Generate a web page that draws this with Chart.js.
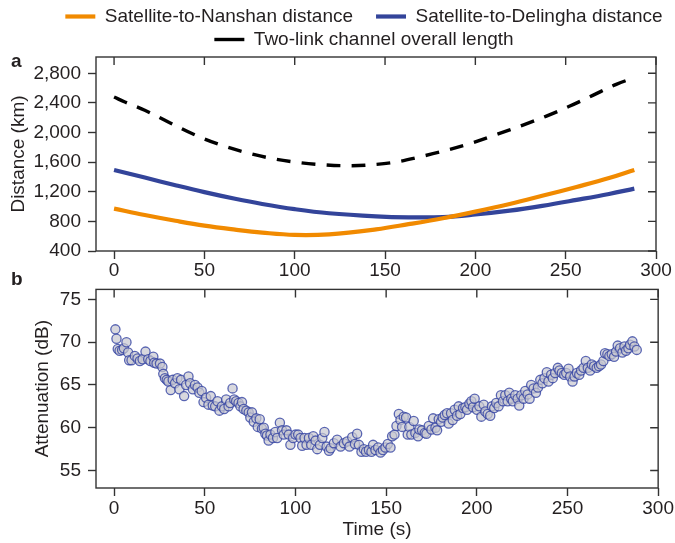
<!DOCTYPE html>
<html>
<head>
<meta charset="utf-8">
<script src="https://cdn.jsdelivr.net/npm/chart.js@4.4.0/dist/chart.umd.min.js"></script>
<style>
html, body { margin: 0; padding: 0; background: #fff; overflow: hidden; }
#wrap { position: relative; width: 675px; height: 543px; overflow: hidden; }
#chartA { position: absolute; left: 0; top: 0; width: 675px; height: 281px; }
#chartB { position: absolute; left: 0; top: 271px; width: 675px; height: 272px; }
</style>
</head>
<body>
<div id="wrap">
  <canvas id="chartA" width="675" height="281"></canvas>
  <canvas id="chartB" width="675" height="272"></canvas>
</div>
<script>
// ==========================================
// DATA - panel a (distance, km)
// ==========================================
const distTime   = [0, 17, 34, 50, 67, 82, 100, 119, 145, 163, 182, 200, 219, 237, 256, 274, 288];
const nanshanKm  = [972, 886, 808, 742, 688, 648, 617, 625, 692, 762, 843, 932, 1035, 1145, 1265, 1385, 1495];
const delinghaKm = [1495, 1392, 1288, 1195, 1105, 1035, 965, 910, 868, 855, 858, 893, 945, 1010, 1090, 1170, 1242];
const totalTime  = [0, 6, 17, 30, 44, 58, 72, 86, 100, 115, 130, 143, 156, 169, 184, 198, 212, 226, 239, 252, 265, 278, 288];
const totalKm    = [2480, 2412, 2300, 2142, 1976, 1841, 1737, 1656, 1602, 1566, 1552, 1566, 1602, 1670, 1760, 1859, 1976, 2097, 2219, 2354, 2502, 2651, 2740];

// DATA - panel b (attenuation, dB)
const attTime = [
  0.7, 1.3, 2, 3, 4.4, 5.4, 6.8, 7.7, 8.3, 9.6, 11.4, 12.9, 14.2, 15.7, 17.3, 18.8, 20, 21.6, 22.1, 23.4,
  25.3, 26.6, 27.1, 28, 29, 29.9, 31.2, 32.3, 33.6, 34.9, 36, 36.9, 38.6, 39.7, 41, 41.9, 43.4, 44.6, 46, 47,
  48.3, 49.3, 50.7, 52, 53.3, 54.4, 55.7, 57, 58.1, 59.4, 60.7, 61.8, 63.1, 64, 65.3, 66.2, 67.3, 68.6, 69.6, 70.5,
  71.4, 72.9, 74.2, 75.1, 76, 77, 78.4, 79.2, 80.3, 81.5, 82.5, 83.4, 84.3, 85.2, 86.2, 87.6, 88.9, 89.9, 91.4, 92.6,
  93.5, 95, 96.3, 97.2, 98.7, 100, 101.5, 102.8, 103.7, 105, 106.1, 107.4, 108.7, 109.8, 111.1, 112, 113.5, 114.8, 116, 117.2,
  118.5, 119.4, 121.2, 123, 124.9, 126.7, 128.5, 129.8, 131.3, 132.8, 134, 135, 136.4, 137.7, 138.9, 140.5, 141.9, 142.8, 144.1, 145.6,
  146.9, 148.2, 149.6, 150.9, 152.4, 153.3, 154.6, 155.7, 157, 157.9, 158.8, 159.7, 161, 161.9, 162.8, 163.9, 165.2, 166.1, 167.6, 168.3,
  169.8, 171.3, 172.2, 173.5, 175, 175.9, 177.2, 178.1, 179, 180.3, 181.2, 182.3, 183.6, 184.5, 185.8, 186.7, 187.8, 189.1, 190, 190.9,
  192.4, 193.7, 194.6, 195.9, 197, 197.9, 198.8, 200.1, 201.4, 202.5, 203.8, 204.7, 206, 207.4, 208.3, 209.6, 210.7, 212, 213.3, 214.4,
  215.7, 217, 217.9, 219, 219.9, 221.2, 222.5, 223.4, 224.5, 225.8, 226.7, 228, 229.1, 230, 231.3, 232.6, 233.7, 235, 236.2, 237.3,
  238.6, 239.5, 241, 241.9, 243.2, 244.7, 245.6, 246.9, 248.2, 249.3, 250.6, 251.5, 252.8, 253.9, 255.2, 256.5, 257.5, 258.8, 260.1, 261.2,
  262.5, 263.4, 264.7, 266.1, 267.4, 268.5, 269.8, 270.7, 272, 273.1, 274.4, 275.7, 276.8, 277.7, 279, 280.3, 281.4, 282.3, 283.6, 284.5,
  285.8, 286.9, 288.2
];
const attDb = [
  71.5, 70.4, 69.2, 69.0, 69.1, 69.3, 70.0, 68.8, 67.9, 67.9, 68.4, 68.1, 67.8, 68.0, 68.9, 68.0, 67.8, 68.3, 67.6, 67.5,
  67.5, 67.1, 66.3, 65.8, 65.6, 65.4, 64.4, 65.6, 65.2, 65.8, 64.5, 65.6, 63.7, 65.0, 66.0, 65.2, 64.5, 65.0, 64.7, 64.1,
  64.3, 63.0, 63.5, 62.7, 63.7, 62.6, 62.5, 63.1, 62.0, 62.5, 62.2, 63.3, 62.5, 62.9, 64.6, 63.3, 63.1, 62.9, 62.5, 63.0,
  62.2, 62.0, 61.8, 61.2, 61.8, 60.7, 61.1, 60.1, 61.0, 59.9, 60.0, 59.3, 59.1, 58.5, 59.2, 58.8, 59.5, 58.8, 60.6, 59.7,
  59.2, 59.7, 59.2, 58.0, 58.8, 59.2, 59.2, 58.8, 57.9, 58.8, 58.0, 58.8, 58.0, 59.0, 58.5, 57.5, 58.0, 58.8, 59.5, 57.8,
  57.3, 57.6, 58.2, 58.6, 57.8, 58.2, 58.4, 57.8, 58.9, 58.1, 59.3, 58.0, 57.2, 57.5, 57.2, 57.4, 57.2, 58.0, 57.4, 57.7,
  57.1, 57.4, 57.7, 58.1, 57.7, 59.0, 59.2, 60.2, 61.6, 60.9, 60.1, 61.3, 61.2, 59.2, 60.1, 59.2, 60.8, 59.4, 59.0, 59.8,
  59.7, 59.4, 59.3, 60.2, 59.8, 61.1, 60.0, 59.7, 61.0, 60.7, 61.2, 61.5, 61.7, 60.5, 61.7, 60.9, 62.1, 61.4, 62.5, 61.6,
  62.3, 62.4, 62.1, 62.8, 63.1, 62.4, 63.4, 62.1, 62.5, 61.3, 62.7, 61.9, 61.6, 61.4, 62.5, 62.3, 62.9, 62.5, 63.8, 63.1,
  63.8, 63.1, 64.1, 63.4, 63.1, 63.8, 63.4, 62.6, 63.8, 63.4, 64.3, 63.9, 63.4, 65.0, 64.6, 64.1, 64.7, 65.6, 65.2, 65.8,
  66.5, 65.4, 66.2, 65.8, 66.4, 67.0, 66.7, 66.4, 66.2, 66.4, 66.9, 66.0, 65.4, 66.0, 66.4, 66.2, 66.7, 67.0, 67.8, 67.0,
  66.7, 67.4, 67.2, 67.0, 67.2, 67.4, 67.8, 68.7, 68.6, 68.4, 68.6, 68.3, 68.9, 69.6, 69.3, 68.8, 69.5, 69.0, 69.3, 69.7,
  70.1, 69.5, 69.1
];

// tick labels
const timeTicks = [0, 50, 100, 150, 200, 250, 300];
const distTicks = [400, 800, 1200, 1600, 2000, 2400, 2800];
const attTicks  = [55, 60, 65, 70, 75];

// ==========================================
// STYLE
// ==========================================
const FONT = '"Liberation Sans", Arial, Helvetica, sans-serif';
const textColor = '#231f20';
const axisColor = '#333333';
const tickLen = 8;
const orange = '#f18a00';
const blue = '#33449a';

// frame + mirrored inward ticks + panel letter
const framePlugin = {
  id: 'frame',
  afterDraw(chart, args, opts) {
    const { ctx, chartArea: a, scales } = chart;
    ctx.save();
    ctx.strokeStyle = axisColor;
    ctx.lineWidth = 1.4;
    ctx.strokeRect(a.left, a.top, a.right - a.left, a.bottom - a.top);
    ctx.beginPath();
    scales.x.ticks.forEach(t => {
      const px = scales.x.getPixelForValue(t.value);
      ctx.moveTo(px, a.top);
      ctx.lineTo(px, a.top + tickLen);
    });
    scales.y.ticks.forEach(t => {
      const py = scales.y.getPixelForValue(t.value);
      ctx.moveTo(a.right, py);
      ctx.lineTo(a.right - tickLen, py);
    });
    ctx.stroke();
    ctx.fillStyle = textColor;
    ctx.font = 'bold 19px ' + FONT;
    ctx.textBaseline = 'alphabetic';
    ctx.fillText(opts.letter, 11, opts.letterY);
    ctx.restore();
  }
};

// legend: tighter box height, rows centred a little right of the canvas middle
const legendFit = {
  id: 'legendFit',
  beforeInit(chart) {
    const fit = chart.legend.fit;
    chart.legend.fit = function () {
      fit.call(this);
      this.height = 54;
    };
  },
  afterLayout(chart) {
    chart.legend.left += 36;
    chart.legend.right += 36;
  }
};

function xScale(extra) {
  return Object.assign({
    type: 'linear',
    min: -10,
    max: 300,
    afterBuildTicks: s => { s.ticks = timeTicks.map(v => ({ value: v })); },
    border: { display: false },
    grid: { drawOnChartArea: false, drawTicks: true, tickLength: tickLen, tickColor: axisColor, tickWidth: 1.4 },
    ticks: { color: textColor, font: { family: FONT, size: 19 }, padding: 0, maxRotation: 0 }
  }, extra);
}

// ==========================================
// PANEL A - distances
// ==========================================
const toPts = (xs, ys) => ys.map((v, i) => ({ x: xs[i], y: v }));

new Chart(document.getElementById('chartA'), {
  type: 'line',
  data: {
    datasets: [
      {
        label: 'Satellite-to-Nanshan distance',
        data: toPts(distTime, nanshanKm),
        borderColor: orange, backgroundColor: orange, borderWidth: 4.2,
        pointRadius: 0, pointStyle: 'line', tension: 0.4
      },
      {
        label: 'Satellite-to-Delingha distance',
        data: toPts(distTime, delinghaKm),
        borderColor: blue, backgroundColor: blue, borderWidth: 4.2,
        pointRadius: 0, pointStyle: 'line', tension: 0.4
      },
      {
        label: 'Two-link channel overall length',
        data: toPts(totalTime, totalKm),
        borderColor: '#000', backgroundColor: '#000', borderWidth: 3.4, borderDash: [14, 11],
        pointRadius: 0, pointStyle: 'line', tension: 0.4
      }
    ]
  },
  options: {
    responsive: false,
    animation: false,
    layout: { padding: { top: 3, left: 0, right: 19, bottom: 0 } },
    plugins: {
      tooltip: { enabled: false },
      frame: { letter: 'a', letterY: 67 },
      legend: {
        position: 'top',
        labels: {
          usePointStyle: true,
          pointStyleWidth: 30,
          padding: 4,
          color: textColor,
          font: { family: FONT, size: 19 },
          generateLabels(chart) {
            const items = Chart.defaults.plugins.legend.labels.generateLabels(chart);
            items.forEach(it => {
              if (it.lineDash && it.lineDash.length) it.lineDash = [11, 6];
            });
            items[0].text += '\u2003';
            return items;
          }
        }
      }
    },
    scales: {
      x: xScale({ afterFit: s => { s.height = 30; } }),
      y: {
        type: 'linear',
        min: 400,
        max: 3020,
        afterBuildTicks: s => { s.ticks = distTicks.map(v => ({ value: v })); },
        afterFit: s => { s.width = 96; },
        border: { display: false },
        grid: { drawOnChartArea: false, drawTicks: true, tickLength: tickLen, tickColor: axisColor, tickWidth: 1.4 },
        ticks: {
          color: textColor, font: { family: FONT, size: 19 }, padding: 7,
          callback: v => v.toLocaleString('en-US')
        },
        title: {
          display: true, text: 'Distance (km)', color: textColor,
          font: { family: FONT, size: 19 }, padding: { top: 7, bottom: 0 }
        }
      }
    }
  },
  plugins: [framePlugin, legendFit]
});

// ==========================================
// PANEL B - attenuation
// ==========================================
new Chart(document.getElementById('chartB'), {
  type: 'scatter',
  data: {
    datasets: [{
      label: 'Attenuation',
      data: toPts(attTime, attDb),
      pointRadius: 4.6,
      borderWidth: 1.3,
      borderColor: 'rgba(52, 68, 162, 0.8)',
      backgroundColor: 'rgba(200, 200, 208, 0.7)'
    }]
  },
  options: {
    responsive: false,
    animation: false,
    layout: { padding: { top: 12, left: 0, right: 15, bottom: 0 } },
    plugins: {
      legend: { display: false },
      tooltip: { enabled: false },
      frame: { letter: 'b', letterY: 14 }
    },
    scales: {
      x: xScale({
        afterFit: s => { s.height = 55; },
        ticks: { color: textColor, font: { family: FONT, size: 19 }, padding: 1, maxRotation: 0 },
        title: {
          display: true, text: 'Time (s)', color: textColor,
          font: { family: FONT, size: 19 }, padding: { top: 0, bottom: 2 }
        }
      }),
      y: {
        type: 'linear',
        min: 52.96,
        max: 76.17,
        afterBuildTicks: s => { s.ticks = attTicks.map(v => ({ value: v })); },
        afterFit: s => { s.width = 96; },
        border: { display: false },
        grid: { drawOnChartArea: false, drawTicks: true, tickLength: tickLen, tickColor: axisColor, tickWidth: 1.4 },
        ticks: { color: textColor, font: { family: FONT, size: 19 }, padding: 7 },
        title: {
          display: true, text: 'Attenuation (dB)', color: textColor,
          font: { family: FONT, size: 19 }, padding: { top: 31, bottom: 0 }
        }
      }
    }
  },
  plugins: [framePlugin]
});
</script>
</body>
</html>
